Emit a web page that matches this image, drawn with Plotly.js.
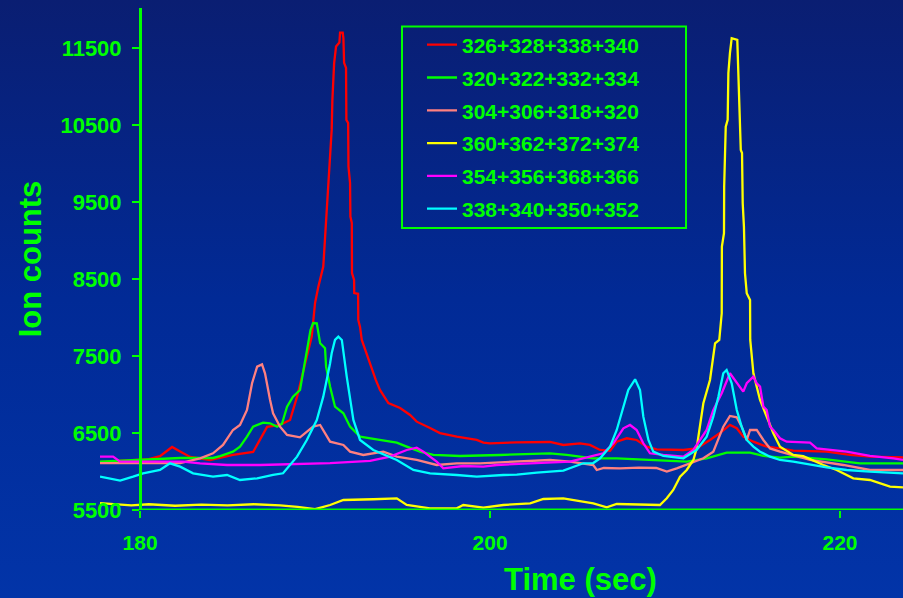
<!DOCTYPE html>
<html>
<head>
<meta charset="utf-8">
<script src="https://cdn.plot.ly/plotly-3.0.1.min.js"></script>
<style>
  html, body { margin: 0; padding: 0; }
  #chart { width: 903px; height: 598px; background: linear-gradient(to bottom, #0a1e72 0%, #012a96 50%, #0234a8 100%); }
</style>
</head>
<body>
<div id="chart"></div>
<script>
// ---- Data ----
const seriesNames = ["326+328+338+340", "320+322+332+334", "304+306+318+320", "360+362+372+374", "354+356+368+366", "338+340+350+352"];

const redT = [177.71, 179.0, 180.5, 181.14, 181.5, 181.83, 182.29, 182.86, 184.0, 185.31, 186.46, 186.86, 187.26, 188.0, 188.57, 188.97, 189.31, 189.71, 189.81, 190.0, 190.19, 190.47, 190.57, 190.76, 190.86, 190.95, 190.99, 191.09, 191.2, 191.39, 191.43, 191.58, 191.62, 191.66, 191.77, 191.79, 191.89, 191.91, 192.0, 192.02, 192.10, 192.11, 192.23, 192.24, 192.46, 192.47, 192.57, 192.67, 193.47, 193.71, 194.19, 194.86, 195.43, 195.81, 196.57, 197.14, 198.10, 199.24, 199.62, 200.0, 201.53, 202.67, 203.43, 204.19, 205.14, 205.71, 206.29, 206.86, 207.24, 207.81, 208.38, 208.95, 209.52, 211.05, 211.81, 212.57, 213.14, 213.71, 214.10, 214.47, 215.05, 215.81, 216.57, 217.33, 219.24, 220.57, 221.71, 223.60];
const redV = [6124, 6140, 6160, 6200, 6260, 6319, 6260, 6190, 6150, 6215, 6254, 6410, 6580, 6605, 6670, 6970, 7280, 7670, 7753, 8191, 8403, 8663, 9053, 9660, 10050, 10440, 10830, 11307, 11523, 11575, 11705, 11705, 11632, 11311, 11246, 10570, 10530, 9963, 9750, 9313, 9230, 8580, 8490, 8320, 8310, 7970, 7880, 7710, 7190, 7060, 6890, 6826, 6735, 6648, 6566, 6500, 6453, 6410, 6375, 6367, 6380, 6380, 6384, 6345, 6367, 6345, 6280, 6270, 6388, 6432, 6410, 6323, 6289, 6280, 6302, 6410, 6500, 6605, 6562, 6453, 6388, 6323, 6302, 6271, 6258, 6215, 6193, 6185];

const greenT = [177.71, 179.0, 180.5, 182.29, 184.17, 184.57, 185.31, 185.71, 186.11, 186.46, 187.03, 187.43, 187.83, 188.11, 188.4, 188.74, 189.14, 189.33, 189.6, 189.74, 189.89, 190.1, 190.29, 190.57, 190.63, 190.86, 191.14, 191.62, 192.0, 192.57, 193.52, 194.67, 195.24, 196.0, 196.76, 198.29, 200.57, 203.43, 204.38, 205.9, 207.24, 209.52, 211.24, 212.38, 213.52, 214.86, 215.62, 216.57, 217.33, 219.24, 221.14, 223.6];
const greenV = [6128, 6140, 6150, 6176, 6176, 6200, 6258, 6323, 6453, 6583, 6635, 6627, 6583, 6620, 6843, 6973, 7060, 7320, 7667, 7840, 7930, 7927, 7667, 7602, 7363, 7103, 6843, 6757, 6583, 6453, 6418, 6375, 6323, 6258, 6215, 6202, 6215, 6237, 6215, 6172, 6172, 6150, 6128, 6172, 6245, 6245, 6202, 6180, 6193, 6159, 6107, 6107];

const salmonT = [177.71, 180.0, 182.29, 183.43, 184.17, 184.74, 185.31, 185.71, 186.11, 186.4, 186.69, 186.97, 187.14, 187.43, 187.6, 188.0, 188.4, 189.14, 189.53, 189.89, 190.29, 190.67, 190.86, 191.62, 192.0, 192.76, 193.9, 194.67, 195.81, 196.95, 198.1, 199.43, 201.53, 203.43, 204.57, 205.9, 206.1, 206.5, 207.43, 208.5, 209.5, 210.1, 210.67, 211.43, 212.19, 212.76, 213.33, 213.71, 214.1, 214.38, 214.67, 214.86, 215.24, 215.62, 216.0, 216.57, 218.29, 220.19, 221.71, 223.6];
const salmonV = [6110, 6110, 6110, 6172, 6237, 6345, 6540, 6605, 6800, 7147, 7363, 7393, 7277, 6930, 6757, 6583, 6475, 6445, 6518, 6583, 6605, 6453, 6388, 6345, 6258, 6215, 6258, 6193, 6150, 6085, 6107, 6107, 6128, 6150, 6128, 6085, 6020, 6046, 6040, 6050, 6046, 6000, 6042, 6107, 6172, 6258, 6583, 6722, 6705, 6583, 6410, 6540, 6540, 6410, 6300, 6258, 6150, 6085, 6020, 6020];

const yellowT = [177.71, 178.5, 179.5, 180.5, 182.0, 183.5, 185.0, 186.5, 188.0, 189.0, 190.0, 190.86, 191.62, 193.33, 194.67, 195.24, 196.57, 198.1, 198.47, 199.62, 200.76, 202.29, 203.05, 204.19, 205.9, 206.67, 207.24, 209.71, 210.1, 210.47, 210.86, 211.24, 211.62, 211.81, 212.0, 212.19, 212.57, 212.86, 213.1, 213.24, 213.25, 213.37, 213.38, 213.47, 213.58, 213.62, 213.71, 213.81, 214.13, 214.19, 214.33, 214.40, 214.44, 214.51, 214.57, 214.67, 214.86, 214.87, 215.05, 215.43, 215.81, 216.19, 216.57, 217.33, 217.9, 219.05, 219.81, 220.76, 221.71, 222.86, 223.6];
const yellowV = [5590, 5575, 5560, 5575, 5555, 5570, 5560, 5575, 5560, 5540, 5510, 5565, 5630, 5640, 5652, 5565, 5522, 5522, 5565, 5530, 5565, 5587, 5643, 5652, 5587, 5535, 5578, 5565, 5652, 5760, 5933, 6020, 6150, 6302, 6583, 6887, 7190, 7667, 7710, 8057, 8923, 9097, 9703, 10483, 10570, 11177, 11437, 11632, 11610, 11068, 10180, 10140, 9487, 9183, 8577, 8317, 8230, 7710, 7277, 6930, 6713, 6497, 6323, 6215, 6200, 6085, 6020, 5912, 5890, 5803, 5795];

const magentaT = [177.71, 178.46, 178.86, 181.5, 182.46, 183.43, 184.97, 186.86, 190.86, 193.14, 194.29, 195.24, 195.81, 196.19, 196.95, 197.33, 198.47, 199.62, 200.38, 202.29, 204.57, 205.71, 206.47, 207.05, 207.62, 208.0, 208.38, 208.76, 209.14, 209.9, 211.05, 211.62, 212.0, 212.38, 212.76, 213.24, 213.71, 214.1, 214.47, 214.67, 215.05, 215.24, 215.43, 215.62, 215.81, 216.0, 216.19, 216.57, 216.95, 218.29, 218.67, 220.38, 221.71, 223.05, 223.6];
const magentaV = [6193, 6193, 6128, 6128, 6128, 6107, 6085, 6085, 6110, 6137, 6193, 6280, 6310, 6258, 6128, 6042, 6072, 6063, 6085, 6107, 6128, 6193, 6237, 6367, 6562, 6605, 6540, 6367, 6237, 6215, 6193, 6280, 6410, 6540, 6800, 7017, 7277, 7147, 7038, 7147, 7233, 7147, 7103, 6843, 6800, 6583, 6540, 6432, 6388, 6375, 6302, 6258, 6202, 6172, 6150];

const cyanT = [177.71, 178.86, 179.6, 180.17, 181.14, 181.71, 182.29, 183.03, 184.17, 184.97, 185.71, 186.69, 187.6, 188.17, 188.97, 189.53, 190.1, 190.47, 190.86, 190.95, 191.14, 191.33, 191.53, 191.81, 192.19, 192.57, 193.33, 194.29, 194.67, 195.62, 196.57, 198.1, 199.24, 200.76, 201.53, 202.67, 204.19, 205.33, 205.9, 206.29, 206.86, 207.24, 207.62, 207.9, 208.29, 208.57, 208.76, 209.05, 209.33, 209.9, 211.05, 211.81, 212.38, 212.76, 213.05, 213.33, 213.52, 213.81, 214.1, 214.38, 214.67, 215.05, 215.43, 216.0, 216.57, 217.33, 219.24, 220.38, 221.71, 223.6];
const cyanV = [5933, 5881, 5933, 5977, 6020, 6107, 6063, 5977, 5933, 5955, 5890, 5912, 5955, 5977, 6193, 6410, 6670, 6973, 7407, 7537, 7710, 7753, 7710, 7233, 6670, 6410, 6280, 6193, 6150, 6020, 5977, 5955, 5933, 5955, 5960, 5985, 6011, 6107, 6110, 6172, 6323, 6540, 6843, 7060, 7199, 7060, 6713, 6410, 6258, 6202, 6172, 6280, 6453, 6713, 6973, 7277, 7320, 7147, 6800, 6583, 6410, 6323, 6258, 6193, 6150, 6128, 6055, 6020, 5998, 5977];

const yTicks = [5500, 6500, 7500, 8500, 9500, 10500, 11500];
const xTicks = [180, 200, 220];
// ---------------------------------------------

const GREEN = '#00ff00';
const FONT = 'Liberation Sans, Arial, Helvetica, sans-serif';
const colors = ['#ff0000', '#00ff00', '#ff8080', '#ffff00', '#ff00ff', '#00ffff'];
const xs = [redT, greenT, salmonT, yellowT, magentaT, cyanT];
const ys = [redV, greenV, salmonV, yellowV, magentaV, cyanV];

const traces = seriesNames.map((n, i) => ({
  x: xs[i], y: ys[i], name: n, type: 'scatter', mode: 'lines',
  line: { color: colors[i], width: 2.3, shape: 'linear' },
  legendgroup: 'g' + i
}));

const layout = {
  width: 903, height: 598,
  paper_bgcolor: 'rgba(0,0,0,0)', plot_bgcolor: 'rgba(0,0,0,0)',
  margin: { l: 100, r: 0, t: 8, b: 88 },
  font: { family: FONT, color: GREEN, size: 21, weight: 'bold' },
  showlegend: true,
  legend: {
    x: (422 - 100) / 803, y: 0.967, xanchor: 'left', yanchor: 'top',
    bgcolor: 'rgba(0,0,0,0)', borderwidth: 0,
    traceorder: 'grouped', tracegroupgap: 2.5,
    font: { family: FONT, color: GREEN, size: 21, weight: 'bold' }
  },
  xaxis: {
    range: [177.71, 223.6], tickvals: xTicks, ticktext: xTicks.map(String),
    showgrid: false, zeroline: false, showline: false,
    ticks: 'outside', ticklen: 7, tickwidth: 2, tickcolor: GREEN,
    ticklabelstandoff: 7,
    tickfont: { family: FONT, color: GREEN, size: 21, weight: 'bold' }
  },
  yaxis: {
    range: [5500, 12024], tickvals: yTicks, ticktext: yTicks.map(String),
    anchor: 'free', position: 40 / 803, side: 'left',
    showgrid: false, zeroline: false, showline: true, linecolor: GREEN, linewidth: 3,
    ticks: 'outside', ticklen: 7, tickwidth: 2, tickcolor: GREEN,
    ticklabelstandoff: 6,
    tickfont: { family: FONT, color: GREEN, size: 22, weight: 'bold' },
    title: { text: 'Ion counts', font: { family: FONT, color: GREEN, size: 31, weight: 'bold' }, standoff: 8 },
    automargin: false
  },
  shapes: [
    { type: 'line', xref: 'x', yref: 'y', x0: 180, x1: 223.6, y0: 5500, y1: 5500, line: { color: GREEN, width: 3 } },
    { type: 'rect', xref: 'paper', yref: 'paper',
      x0: (402 - 100) / 803, x1: (686 - 100) / 803, y0: (510 - 228) / 502, y1: (510 - 26.5) / 502,
      line: { color: GREEN, width: 2 }, fillcolor: 'rgba(0,0,0,0)' }
  ],
  annotations: [
    { text: 'Time (sec)', xref: 'paper', yref: 'paper', x: (580 - 100) / 803, y: -0.138, xanchor: 'center', yanchor: 'middle',
      showarrow: false, font: { family: FONT, color: GREEN, size: 31, weight: 'bold' } }
  ]
};

Plotly.newPlot('chart', traces, layout, { displayModeBar: false, staticPlot: true });
</script>
</body>
</html>
